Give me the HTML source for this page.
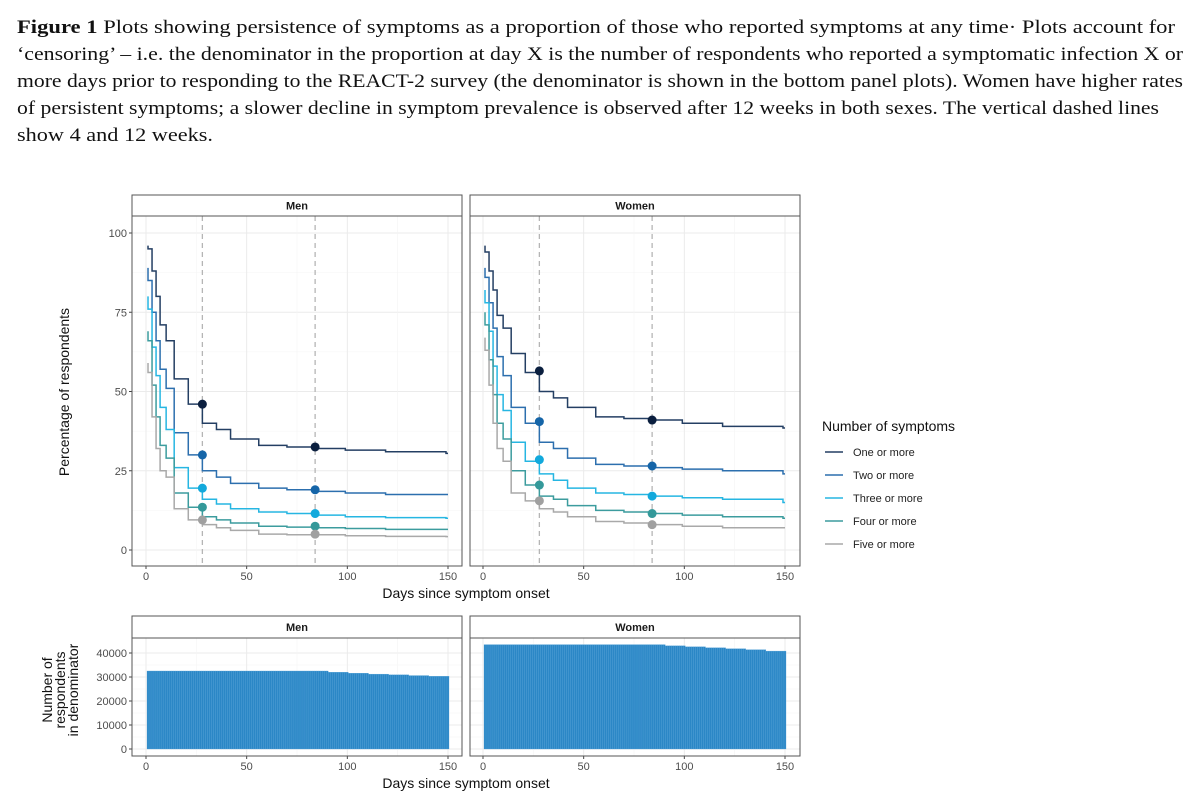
<!DOCTYPE html>
<html><head><meta charset="utf-8">
<style>
html,body{margin:0;padding:0;background:#fff;}
svg{display:block;}
.cap{font-family:"Liberation Serif",serif;font-size:18.5px;fill:#111;}
.ax{font-family:"Liberation Sans",sans-serif;font-size:11px;fill:#4d4d4d;}
.lab{font-family:"Liberation Sans",sans-serif;font-size:14px;fill:#111;}
.strip{font-family:"Liberation Sans",sans-serif;font-size:11px;font-weight:bold;fill:#1a1a1a;}
</style></head>
<body>
<svg id="fig" width="1200" height="802" viewBox="0 0 1200 802" xmlns="http://www.w3.org/2000/svg">
<g>
<text class="cap" x="17" y="33" textLength="1158" lengthAdjust="spacingAndGlyphs"><tspan font-weight="bold">Figure 1</tspan> Plots showing persistence of symptoms as a proportion of those who reported symptoms at any time· Plots account for</text>
<text class="cap" x="17" y="60" textLength="1166" lengthAdjust="spacingAndGlyphs">‘censoring’ – i.e. the denominator in the proportion at day X is the number of respondents who reported a symptomatic infection X or</text>
<text class="cap" x="17" y="87" textLength="1166" lengthAdjust="spacingAndGlyphs">more days prior to responding to the REACT-2 survey (the denominator is shown in the bottom panel plots). Women have higher rates</text>
<text class="cap" x="17" y="114" textLength="1142" lengthAdjust="spacingAndGlyphs">of persistent symptoms; a slower decline in symptom prevalence is observed after 12 weeks in both sexes. The vertical dashed lines</text>
<text class="cap" x="17" y="141" textLength="196" lengthAdjust="spacingAndGlyphs">show 4 and 12 weeks.</text>
</g>
<g id="chart"></g>
</svg>
<script>
const days = [1,2,4,6,8,11,15,22,29,36,43,57,71,84,100,120,150];
const seriesNames = ["One or more","Two or more","Three or more","Four or more","Five or more"];
const menOne   = [96,95,88,80,71,66,54,46,40,38,35,33,32.5,32,31.5,31,30.5];
const menTwo   = [89,85,75,66,57,51,37,30,25,23,21,19.5,19,18.5,18,17.5,17.5];
const menThree = [80,76,64,55,45,38,26,19.5,16,14.5,13,12,11.5,11,10.5,10.2,10];
const menFour  = [69,66,52,42,33,29,18,13.5,10.5,9.5,8.5,7.5,7.2,7,6.8,6.5,6.5];
const menFive  = [59,56,42,32,25,23,13,9.5,8,7,6.2,5,4.8,4.8,4.5,4.3,4.2];
const womenOne   = [96,94,88,82,74,70,62,56,50,48,45,42,41.5,41,40,39,38.5];
const womenTwo   = [89,86,78,70,61,55,45,40,34,32,29,27,26.5,26,25.5,25,24];
const womenThree = [82,78,69,58,49,44,34,28,24,22,19.5,18,17.5,17,16.5,16,15];
const womenFour  = [75,71,60,49,40,35,25,20.5,17,16,14,12.5,12,11.5,11,10.5,10];
const womenFive  = [67,63,52,40,32,28,18,15.5,13,12,10.5,9,8.5,8,7.5,7,7];
const markerDays = [28,84];
const menWeek4   = [46,30,19.5,13.5,9.5];
const menWeek12  = [32.5,19,11.5,7.5,5];
const womenWeek4  = [56.5,40.5,28.5,20.5,15.5];
const womenWeek12 = [41,26.5,17,11.5,8];
const denomBucketStart = [1,11,21,31,41,51,61,71,81,91,101,111,121,131,141];
const menDenom   = [32500,32500,32500,32500,32500,32500,32500,32500,32500,32000,31600,31200,30900,30600,30300];
const womenDenom = [43500,43500,43500,43500,43500,43500,43500,43500,43500,43000,42600,42200,41800,41400,40800];
const xTicks = [0,50,100,150];
const yTicksTop = [0,25,50,75,100];
const yTicksBot = [0,10000,20000,30000,40000];

const colors = ["#243f63","#2c6fae","#26b6e2","#3c9c9e","#a9a9a9"];
const ptColors = ["#0b1f3f","#1565a8","#12a9dc","#34999a","#a0a0a0"];
const NS="http://www.w3.org/2000/svg";
const root=document.getElementById('chart');
function mk(tag,attrs,parent){const e=document.createElementNS(NS,tag);for(const k in attrs)e.setAttribute(k,attrs[k]);(parent||root).appendChild(e);return e;}

const panels=[{x0:132,x1:462,ox:146},{x0:470,x1:800,ox:483}];
const dayPx=(448-146)/150;
function xS(p,d){return panels[p].ox+d*dayPx;}
const topY=v=>550-v*3.17;
const botY=v=>749-v*0.0024;
const menData=[menOne,menTwo,menThree,menFour,menFive];
const womenData=[womenOne,womenTwo,womenThree,womenFour,womenFive];

function panel(p,top,stripTop,plotTop,plotBot,yS,yTicks,title,showY,grp){
  const P=panels[p];
  const g=mk('g',{},grp);
  
  
  mk('rect',{x:P.x0,y:plotTop,width:P.x1-P.x0,height:plotBot-plotTop,fill:'#fff'},g);
  for(let i=0;i<yTicks.length;i++){
    mk('line',{x1:P.x0,x2:P.x1,y1:yS(yTicks[i]),y2:yS(yTicks[i]),stroke:'#ebebeb','stroke-width':1},g);
    if(i<yTicks.length-1){const m=(yTicks[i]+yTicks[i+1])/2;mk('line',{x1:P.x0,x2:P.x1,y1:yS(m),y2:yS(m),stroke:'#f5f5f5','stroke-width':0.6},g);}
  }
  for(let i=0;i<xTicks.length;i++){
    mk('line',{x1:xS(p,xTicks[i]),x2:xS(p,xTicks[i]),y1:plotTop,y2:plotBot,stroke:'#ebebeb','stroke-width':1},g);
    if(i<xTicks.length-1){const m=(xTicks[i]+xTicks[i+1])/2;mk('line',{x1:xS(p,m),x2:xS(p,m),y1:plotTop,y2:plotBot,stroke:'#f5f5f5','stroke-width':0.6},g);}
  }
  mk('rect',{x:P.x0,y:stripTop,width:P.x1-P.x0,height:plotTop-stripTop,fill:'#fff',stroke:'#555','stroke-width':1},g);
  const st=mk('text',{class:'strip',x:(P.x0+P.x1)/2,y:(stripTop+plotTop)/2+4,'text-anchor':'middle'},g);
  st.textContent=title;
  
  
  for(const t of xTicks){
    mk('line',{x1:xS(p,t),x2:xS(p,t),y1:plotBot,y2:plotBot+3,stroke:'#444'},g);
    const tx=mk('text',{class:'ax',x:xS(p,t),y:plotBot+14,'text-anchor':'middle'},g);
    tx.textContent=t;
    
    
  }
  if(showY){for(const t of yTicks){
    mk('line',{x1:P.x0-3,x2:P.x0,y1:yS(t),y2:yS(t),stroke:'#444'},g);
    const ty=mk('text',{class:'ax',x:P.x0-5,y:yS(t)+4,'text-anchor':'end'},g);
    ty.textContent=t;
    
    
  }}
  return g;
}

const topG=mk('g',{});


[["Men",menData,[menWeek4,menWeek12]],["Women",womenData,[womenWeek4,womenWeek12]]].forEach((pd,p)=>{
  const g=panel(p,true,195,216,566,topY,yTicksTop,pd[0],p===0,topG);
  for(const md of markerDays){
    const l=mk('line',{x1:xS(p,md),x2:xS(p,md),y1:216,y2:566,stroke:'#b5b5b5','stroke-width':1.3,'stroke-dasharray':'5,4'},g);
    
    
  }
  pd[1].forEach((vals,s)=>{
    let d='M'+xS(p,days[0])+','+topY(vals[0]);
    for(let i=1;i<days.length;i++){d+=' H'+xS(p,days[i]-1)+' V'+topY(vals[i]);}
    d+=' H'+xS(p,150);
    const path=mk('path',{d:d,fill:'none',stroke:colors[s],'stroke-width':1.5},g);
    
    
  });
  pd[2].forEach((arr,k)=>{
    arr.forEach((v,s)=>{
      const c=mk('circle',{cx:xS(p,markerDays[k]),cy:topY(v),r:4.5,fill:ptColors[s]},g);
      
      
    });
  });
  mk('rect',{x:panels[p].x0,y:216,width:panels[p].x1-panels[p].x0,height:350,fill:'none',stroke:'#555','stroke-width':1},g);
});
const yt=mk('text',{class:'lab',transform:'translate(69,392) rotate(-90)','text-anchor':'middle'},topG);
yt.textContent='Percentage of respondents';


const xt=mk('text',{class:'lab',x:466,y:598,'text-anchor':'middle'},topG);
xt.textContent='Days since symptom onset';



const lg=mk('g',{});


const lt=mk('text',{class:'lab',x:822,y:431,'font-size':'13.5'},lg);
lt.textContent='Number of symptoms';
seriesNames.forEach((n,s)=>{
  const y=452+s*23;
  const e=mk('g',{},lg);
  
  
  mk('line',{x1:825,x2:843,y1:y,y2:y,stroke:colors[s],'stroke-width':1.5},e);
  const t=mk('text',{class:'ax',x:853,y:y+4},e);
  t.setAttribute('style','fill:#222');
  t.textContent=n;
});

const botG=mk('g',{});


[["Men",menDenom],["Women",womenDenom]].forEach((pd,p)=>{
  const g=panel(p,false,616,638,756,botY,yTicksBot,pd[0],p===0,botG);
  for(let day=1;day<=150;day++){
    let b=0;for(let i=0;i<denomBucketStart.length;i++)if(day>=denomBucketStart[i])b=i;
    const v=pd[1][b];
    const r=mk('rect',{x:xS(p,day)-dayPx/2,y:botY(v),width:dayPx,height:botY(0)-botY(v),fill:'#2b87c6',stroke:'#5aa6da','stroke-width':0.3},g);
    
    
  }
  mk('rect',{x:panels[p].x0,y:638,width:panels[p].x1-panels[p].x0,height:118,fill:'none',stroke:'#555','stroke-width':1},g);
});
const byt=mk('text',{class:'lab',transform:'translate(0,690) rotate(-90)','text-anchor':'middle'},botG);
['Number of','respondents','in denominator'].forEach((s,i)=>{const ts=mk('tspan',{x:0,y:52+i*13},byt);ts.textContent=s;});


const bxt=mk('text',{class:'lab',x:466,y:788,'text-anchor':'middle'},botG);
bxt.textContent='Days since symptom onset';


</script>
</body></html>
